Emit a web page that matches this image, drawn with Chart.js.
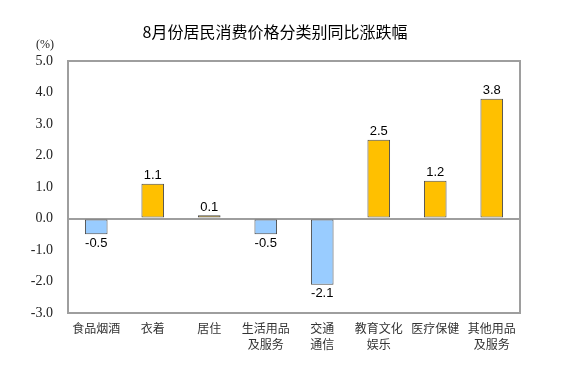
<!DOCTYPE html>
<html>
<head>
<meta charset="utf-8">
<script src="https://cdn.jsdelivr.net/npm/chart.js@4.4.1/dist/chart.umd.min.js"></script>
<style>
html,body{margin:0;padding:0;background:#fff;}
#wrap{width:573px;height:383px;position:relative;}
</style>
</head>
<body>
<div id="wrap"><canvas id="c" width="573" height="383"></canvas></div>
<script>
const titleText = '8月份居民消费价格分类别同比涨跌幅';
const unitLabel = '(%)';
const categories = [
  ['食品烟酒'],
  ['衣着'],
  ['居住'],
  ['生活用品', '及服务'],
  ['交通', '通信'],
  ['教育文化', '娱乐'],
  ['医疗保健'],
  ['其他用品', '及服务']
];
const values = [-0.5, 1.1, 0.1, -0.5, -2.1, 2.5, 1.2, 3.8];
const yMin = -3.0;
const yMax = 5.0;
const yStep = 1.0;

const POS_COLOR = '#FFC000';
const NEG_COLOR = '#99CCFF';
const FRAME = '#9E9E9E';

const decor = {
  id: 'decor',
  afterDraw(chart) {
    const {ctx, chartArea: a} = chart;
    ctx.save();
    ctx.strokeStyle = FRAME;
    ctx.lineWidth = 2;
    ctx.strokeRect(a.left, a.top, a.right - a.left, a.bottom - a.top);
    ctx.fillStyle = '#000';
    ctx.font = '16px "Noto Sans CJK SC", sans-serif';
    ctx.textAlign = 'center';
    ctx.textBaseline = 'middle';
    ctx.fillText(titleText, 275, 32);
    ctx.font = '12px "Liberation Serif", serif';
    ctx.fillStyle = '#222';
    ctx.fillText(unitLabel, 45, 45);
    ctx.font = '13px "Liberation Sans", Arial, sans-serif';
    ctx.fillStyle = '#000';
    const meta = chart.getDatasetMeta(0);
    meta.data.forEach((bar, i) => {
      const v = values[i];
      const txt = v.toFixed(1);
      if (v >= 0) {
        ctx.fillText(txt, bar.x, bar.y - 8);
      } else {
        ctx.fillText(txt, bar.x, bar.y + 9);
      }
    });
    ctx.restore();
  }
};

new Chart(document.getElementById('c'), {
  type: 'bar',
  data: {
    labels: categories,
    datasets: [{
      data: values,
      backgroundColor: values.map(v => v >= 0 ? POS_COLOR : NEG_COLOR),
      borderColor: '#4D4D4D',
      borderWidth: 1,
      borderSkipped: false,
      categoryPercentage: 1.0,
      barPercentage: 0.4
    }]
  },
  options: {
    responsive: false,
    animation: false,
    devicePixelRatio: 1,
    layout: { padding: { left: 0, right: 53, top: 61, bottom: 0 } },
    plugins: {
      legend: { display: false },
      title: { display: false },
      tooltip: { enabled: false }
    },
    scales: {
      x: {
        grid: { display: false, drawTicks: false },
        border: { display: false },
        ticks: {
          autoSkip: false,
          maxRotation: 0,
          padding: 7,
          color: '#333',
          font: { family: '"Noto Sans CJK SC", sans-serif', size: 12, lineHeight: '16px' }
        },
        afterFit(scale) { scale.height = 70; }
      },
      y: {
        min: yMin,
        max: yMax,
        grid: {
          drawTicks: false,
          lineWidth: 2,
          color: (c) => (c.tick && c.tick.value === 0) ? FRAME : 'rgba(0,0,0,0)'
        },
        border: { display: false },
        ticks: {
          stepSize: yStep,
          padding: 15,
          color: '#222',
          font: { family: '"Liberation Serif", "Times New Roman", serif', size: 14 },
          callback: (v) => Number(v).toFixed(1)
        },
        afterFit(scale) { scale.width = 68; }
      }
    }
  },
  plugins: [decor]
});
</script>
</body>
</html>
